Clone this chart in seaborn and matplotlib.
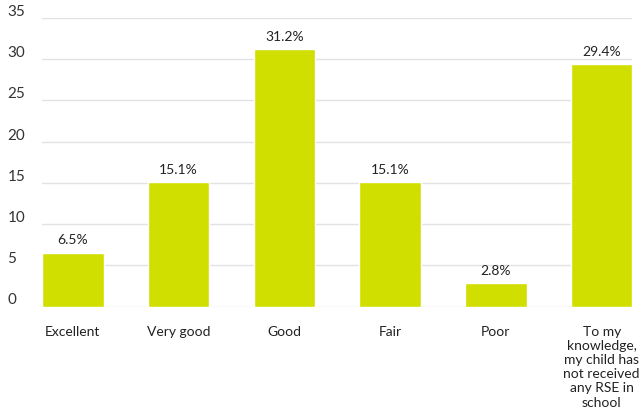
import matplotlib
matplotlib.use('Agg')
import matplotlib.pyplot as plt
import seaborn as sns
import pandas as pd

categories = ['Excellent', 'Very good', 'Good', 'Fair', 'Poor',
              'To my\nknowledge,\nmy child has\nnot received\nany RSE in\nschool']
values = [6.5, 15.1, 31.2, 15.1, 2.8, 29.4]
yticks = [0, 5, 10, 15, 20, 25, 30, 35]

sns.set_style('white')
plt.rcParams['font.family'] = ['Lato', 'DejaVu Sans']

df = pd.DataFrame({'cat': categories, 'val': values})

fig = plt.figure(figsize=(6.4, 4.1), dpi=100)
ax = fig.add_axes([0.066, 0.25, 0.922, 0.704])

sns.barplot(data=df, x='cat', y='val', color='#d1df00', width=0.58,
            saturation=1, ax=ax, zorder=3)

for i, v in enumerate(values):
    ax.text(i, v + 0.9, f'{v}%', ha='center', va='bottom', fontsize=10, color='#222222')

ax.set_ylim(0, 35)
ax.set_xlim(-0.29, 5.29)
ax.set_yticks(yticks)
ax.yaxis.grid(True, color='#e2e2e2', linewidth=1, zorder=0)
for s in ax.spines.values():
    s.set_visible(False)
ax.set_xlabel('')
ax.set_ylabel('')
ax.tick_params(axis='x', length=0, pad=13, labelsize=10, labelcolor='#222222')
ax.tick_params(axis='y', length=0, pad=25, labelsize=11, labelcolor='#333333')
for lbl in ax.get_yticklabels():
    lbl.set_horizontalalignment('left')
    lbl.set_verticalalignment('bottom')
for lbl in ax.get_xticklabels():
    lbl.set_linespacing(1.22)

fig.savefig('out.png', dpi=100)
